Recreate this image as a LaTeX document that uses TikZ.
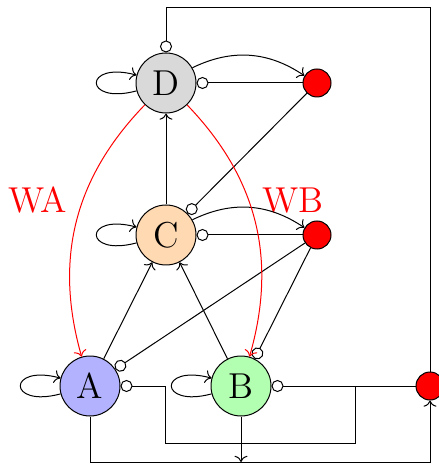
\documentclass[tikz,border=0pt]{standalone}
\usetikzlibrary{arrows.meta}
\begin{document}
\begin{tikzpicture}[x=0.4pt, y=-0.4pt,
  gene/.style={circle, draw, minimum size=24pt, inner sep=0pt, font=\Large},
  outdot/.style={circle, draw, fill=red, minimum size=11.2pt, inner sep=0pt},
  inh/.style={-{Circle[length=4.8pt, fill=white]}},
  act/.style={->},
  wlabel/.style={text=red, font=\Large}]
  \useasboundingbox (0,0) rectangle (438,464);

  % genes
  \node[gene, fill=black!15] (D) at (166,83) {D};
  \node[gene, fill=orange!30] (C) at (166,235) {C};
  \node[gene, fill=blue!30] (A) at (90,386) {A};
  \node[gene, fill=green!30] (B) at (241,386) {B};

  % output dots
  \node[outdot] (Dp) at (317,83) {};
  \node[outdot] (Cp) at (317,235) {};
  \node[outdot] (Bp) at (430,386) {};

  % weight labels
  \node[wlabel] (wa) at (38,200) {WA};
  \node[wlabel] (wb) at (293,201) {WB};

  % routing corners
  \coordinate (tr) at (430,8);
  \coordinate (br) at (430,462);
  \coordinate (j1) at (355,386);
  \coordinate (j2) at (165,443);
  \coordinate (bb) at (241,462);

  % self loops
  \foreach \n in {A,B,C,D} \draw[act] (\n) to[loop left, looseness=9] (\n);

  % activations
  \draw[act] (D) to[bend left=30] (Dp);
  \draw[act] (C) to[bend left=30] (Cp);
  \draw[act] (C) -- (D);
  \draw[act] (A) -- (C);
  \draw[act] (B) -- (C);
  \draw[act] (A) |- (br) -- (Bp);
  \draw[act] (B) -- (bb);

  % inhibitions
  \draw[inh] (Dp) -- (D);
  \draw[inh] (Dp) -- (C);
  \draw[inh] (Cp) -- (C);
  \draw[inh] (Cp) -- (A);
  \draw[inh] (Cp) -- (B);
  \draw[inh] (Bp) -- (B);
  \draw[inh] (Bp) -- (j1) |- (j2) |- (A);
  \draw[inh] (Bp) -- (tr) -| (D);

  % weighted edges
  \draw[act, red] (D) to[bend right=30] (A);
  \draw[act, red] (D) to[bend left=30] (B);
\end{tikzpicture}
\end{document}
